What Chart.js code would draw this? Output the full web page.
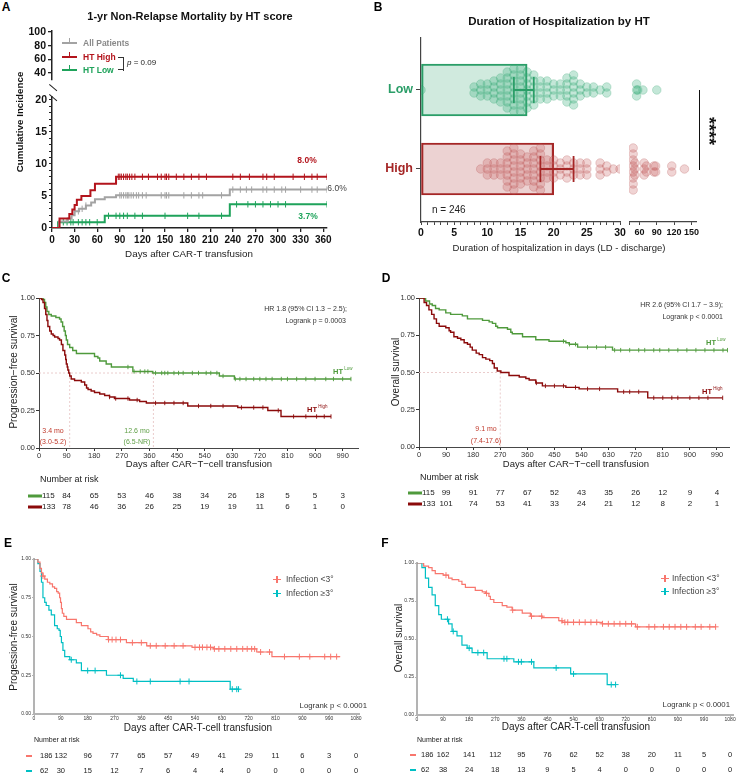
<!DOCTYPE html>
<html>
<head>
<meta charset="utf-8">
<script src="https://cdn.jsdelivr.net/npm/chart.js@4.4.1/dist/chart.umd.min.js"></script>
<style>
  body { margin:0; width:738px; height:775px; position:relative; overflow:hidden; background:#fff; }
  canvas { position:absolute; }
  .t { position:absolute; white-space:nowrap; }
  .ln { position:absolute; }
</style>
</head>
<body>
<script>
const F = '"Liberation Sans", Arial, sans-serif';
Chart.defaults.font.family = F;

// ---------- datos panel A: incidencia acumulada NRM (%), [dia, %] ----------
const nrmDays = [0, 30, 60, 90, 120, 150, 180, 210, 240, 270, 300, 330, 360];
const nrmUpperTicks = [40, 60, 80, 100];
const nrmHigh = [[0,0],[10,1.5],[23,2.2],[27,2.9],[30,3.6],[33,4.4],[39,5.0],[51,5.9],[57,6.9],[85,8.0],[365,8.0]];
const nrmAll = [[0,0],[9,1.0],[21,1.5],[26,2.0],[30,2.6],[36,3.0],[45,3.5],[52,4.0],[57,4.5],[70,4.8],[85,5.1],[236,6.0],[365,6.0]];
const nrmLow = [[0,0],[8,0.9],[70,1.9],[236,3.7],[365,3.7]];
const nrmHighCens = [88,90,92,95,98,100,103,106,110,120,128,140,145,150,152,155,165,175,185,195,205,240,250,262,280,285,295,320,335,345,352,365];
const nrmAllCens = [30,35,40,45,90,92,95,98,100,102,105,108,112,115,120,125,145,150,152,155,175,185,195,200,225,240,250,258,265,280,285,295,305,310,330,345,352,365];
const nrmLowCens = [15,20,25,28,35,40,45,50,60,75,85,90,95,100,110,120,150,180,195,225,245,260,270,280,290,300,310,365];

// ---------- datos panel B: dias de hospitalizacion ----------
const hospGroups = ['Low', 'High'];
const hospY = [1, 0];
const hospBar = [16, 20];
const hospCI = [[14, 17], [18, 23]];
const hospLow = [0, 8,8, 9,9,9, 10,10,10, 11,11,11,11, 12,12,12,12,12, 13,13,13,13,13,13,13,
  14,14,14,14,14,14,14,14, 15,15,15,15,15,15,15,15, 16,16,16,16,16,16,16, 17,17,17,17,17,17,
  18,18,18,18, 19,19,19,19, 20,20,20, 21,21,21, 22,22,22,22,22, 23,23,23,23,23,23, 24,24,24,
  25,25, 26,26, 27, 28,28, 55,55,55, 57, 66, 90];
const hospHigh = [9, 10,10,10, 11,11,11, 12,12,12, 13,13,13,13,13,13,13, 14,14,14,14,14,14,14,14,
  15,15,15,15,15,15, 16,16,16,16,16, 17,17,17,17,17,17,17, 18,18,18,18,18,18,18,18, 19,19,19,19,
  20,20,20,20, 21,21,21, 22,22,22,22, 23,23,23, 24,24,24, 25,25,25, 27,27,27, 28,28, 29, 30,
  49,49,49,49,49,49,49,49, 52,52,52, 68,68,68, 72,72, 85,85, 88,88, 116,116, 138];
const hospSeg1Ticks = [0, 5, 10, 15, 20, 25, 30];
const hospSeg2Ticks = [60, 90, 120, 150];

// ---------- datos panel C: PFS por HT ----------
const kmDaysCD = [0, 90, 180, 270, 360, 450, 540, 630, 720, 810, 900, 990];
const survTicks = [0, 0.25, 0.5, 0.75, 1];
const pfsLow = [[0,1],[13,0.99],[18,0.97],[22,0.94],[26,0.91],[32,0.89],[40,0.88],[55,0.87],[67,0.86],[72,0.84],[77,0.81],[82,0.78],[86,0.75],[89,0.72],[93,0.69],[100,0.67],[110,0.65],[122,0.63],[181,0.61],[192,0.60],[198,0.58],[219,0.56],[236,0.54],[306,0.51],[371,0.50],[588,0.48],[637,0.46],[1017,0.46]];
const pfsHigh = [[0,1],[8,0.99],[13,0.97],[18,0.93],[22,0.89],[26,0.85],[29,0.81],[35,0.78],[40,0.76],[46,0.75],[51,0.74],[62,0.73],[67,0.72],[73,0.69],[78,0.65],[84,0.62],[87,0.59],[89,0.56],[92,0.54],[94,0.52],[97,0.50],[100,0.48],[105,0.46],[116,0.45],[138,0.44],[149,0.42],[155,0.40],[160,0.39],[170,0.38],[181,0.37],[198,0.36],[214,0.35],[230,0.34],[246,0.33],[295,0.32],[328,0.31],[350,0.30],[485,0.28],[648,0.27],[746,0.25],[789,0.21],[952,0.21]];
const pfsLowCens = [290,310,330,345,355,380,400,410,420,440,455,470,500,520,545,560,580,600,640,655,675,700,720,740,760,790,810,840,870,900,935,960,990,1017];
const pfsHighCens = [230,250,290,320,380,410,440,470,520,560,600,660,700,730,780,830,870,905,930,952];
const pfsMedians = [100, 373];
const riskC_low = [115, 84, 65, 53, 46, 38, 34, 26, 18, 5, 5, 3];
const riskC_high = [133, 78, 46, 36, 26, 25, 19, 19, 11, 6, 1, 0];

// ---------- datos panel D: OS por HT ----------
const osLow = [[0,1],[22,0.98],[35,0.96],[44,0.95],[55,0.93],[67,0.92],[89,0.90],[105,0.89],[144,0.88],[161,0.86],[211,0.85],[233,0.84],[244,0.83],[255,0.81],[261,0.80],[294,0.79],[305,0.77],[310,0.76],[344,0.74],[388,0.72],[432,0.71],[488,0.70],[499,0.69],[527,0.67],[643,0.65],[1025,0.65]];
const osHigh = [[0,1],[17,0.97],[25,0.95],[33,0.92],[42,0.89],[50,0.86],[58,0.83],[67,0.81],[89,0.80],[100,0.78],[105,0.77],[116,0.74],[128,0.73],[139,0.72],[150,0.70],[161,0.69],[170,0.67],[177,0.65],[190,0.63],[200,0.62],[211,0.60],[222,0.59],[235,0.58],[244,0.56],[250,0.53],[260,0.51],[272,0.50],[299,0.48],[333,0.47],[355,0.46],[366,0.45],[388,0.43],[410,0.41],[488,0.40],[532,0.39],[660,0.37],[760,0.33],[1009,0.33]];
const osLowCens = [480,500,520,560,590,620,650,670,700,730,750,780,800,830,860,890,920,950,980,1010,1025];
const osHighCens = [390,420,450,480,520,560,600,680,700,730,780,810,840,860,900,930,960,1009];
const osMedians = [270];
const riskD_low = [115, 99, 91, 77, 67, 52, 43, 35, 26, 12, 9, 4];
const riskD_high = [133, 101, 74, 53, 41, 33, 24, 21, 12, 8, 2, 1];

// ---------- datos paneles E/F: infeccion ----------
const kmDaysEF = [0, 90, 180, 270, 360, 450, 540, 630, 720, 810, 900, 990, 1080];
const infPfsLow = [[0,1],[13,0.98],[20,0.94],[25,0.91],[30,0.89],[36,0.87],[45,0.85],[53,0.84],[62,0.82],[69,0.81],[76,0.79],[81,0.78],[86,0.75],[89,0.72],[92,0.68],[95,0.65],[100,0.63],[109,0.61],[142,0.59],[159,0.57],[181,0.55],[190,0.53],[198,0.52],[210,0.51],[221,0.50],[249,0.48],[310,0.46],[378,0.44],[530,0.43],[602,0.42],[747,0.40],[798,0.37],[1027,0.37]];
const infPfsHigh = [[0,1],[13,0.97],[20,0.92],[25,0.85],[30,0.75],[36,0.72],[41,0.70],[50,0.67],[58,0.64],[69,0.57],[78,0.55],[84,0.54],[88,0.50],[92,0.46],[97,0.41],[103,0.37],[120,0.35],[142,0.33],[159,0.28],[243,0.25],[299,0.23],[333,0.21],[658,0.16],[686,0.16]];
const infPfsLowCens = [30,250,262,275,290,330,360,390,410,440,470,500,540,555,565,580,592,605,620,640,660,680,700,715,730,740,760,790,840,890,925,975,995,1015];
const infPfsHighCens = [125,180,205,290,345,390,490,520,665,680,686];
const riskE_lo = [186, 132, 96, 77, 65, 57, 49, 41, 29, 11, 6, 3, 0];
const riskE_hi = [62, 30, 15, 12, 7, 6, 4, 4, 0, 0, 0, 0, 0];

const infOsLow = [[0,1],[23,0.98],[40,0.97],[52,0.95],[63,0.93],[90,0.92],[109,0.90],[121,0.89],[144,0.88],[155,0.86],[167,0.84],[201,0.82],[225,0.81],[236,0.80],[248,0.78],[253,0.76],[265,0.74],[294,0.72],[310,0.71],[328,0.69],[363,0.67],[391,0.65],[432,0.64],[489,0.62],[501,0.61],[639,0.60],[754,0.58],[1030,0.58]];
const infOsHigh = [[0,1],[17,0.97],[29,0.90],[40,0.84],[52,0.79],[63,0.72],[75,0.66],[84,0.63],[109,0.60],[121,0.55],[138,0.52],[155,0.46],[173,0.44],[190,0.41],[242,0.37],[334,0.35],[403,0.31],[530,0.27],[656,0.20],[685,0.20]];
const infOsLowCens = [100,240,330,395,430,500,510,520,540,560,580,600,620,640,660,680,700,720,740,760,800,820,850,870,890,910,930,960,980,1010,1030];
const infOsHighCens = [105,125,180,210,230,300,310,350,360,395,480,540,670,685];
const riskF_lo = [186, 162, 141, 112, 95, 76, 62, 52, 38, 20, 11, 5, 0];
const riskF_hi = [62, 38, 24, 18, 13, 9, 5, 4, 0, 0, 0, 0, 0];

// colores
const redA = '#b3141c', greyA = '#a3a3a3', greenA = '#1fa35b';
const greenB = '#2b9e68', redB = '#a52626';
const greenKM = '#4f9a3c', redKM = '#8b0a0a';
const salmon = '#f8766d', cyan = '#00bfc4';

// ---------- utilitarios ----------
function range(a, b) { const r = []; for (let i = a; i <= b; i++) r.push(i); return r; }

function stepAt(pts, d) {
  let v = pts[0][1];
  for (const p of pts) { if (p[0] <= d) v = p[1]; }
  return v;
}

function txt(s, x, y, fs, o) {
  o = o || {};
  const d = document.createElement('div');
  d.className = 't';
  d.innerHTML = s;
  d.style.font = (o.b ? 'bold ' : '') + fs + 'px ' + F;
  d.style.lineHeight = '1';
  d.style.color = o.c || '#222';
  d.style.left = x + 'px';
  d.style.top = y + 'px';
  const tx = o.a === 'l' ? '0' : o.a === 'r' ? '-100%' : '-50%';
  d.style.transform = 'translate(' + tx + ',-50%)' + (o.r ? ' rotate(' + o.r + 'deg)' : '');
  document.body.appendChild(d);
}

function box(x, y, w, h, color, extra) {
  const d = document.createElement('div');
  d.className = 'ln';
  d.style.cssText = 'left:' + x + 'px;top:' + y + 'px;width:' + w + 'px;height:' + h + 'px;background:' + color + ';' + (extra || '');
  document.body.appendChild(d);
}

function mkCanvas(area, m) {
  const c = document.createElement('canvas');
  const left = Math.round(area[0] - m.l), top = Math.round(area[1] - m.t);
  c.width = Math.round(area[2] - area[0] + m.l + m.r);
  c.height = Math.round(area[3] - area[1] + m.t + m.b);
  c.style.left = left + 'px';
  c.style.top = top + 'px';
  c.style.width = c.width + 'px';
  c.style.height = c.height + 'px';
  document.body.appendChild(c);
  return { c: c, left: left, top: top };
}

function axis(o) {
  const shown = o.display !== false;
  return {
    type: 'linear', min: o.min, max: o.max, display: shown, offset: false,
    afterFit: s => { if (!shown) return; if (o.horiz) s.height = o.size; else s.width = o.size; },
    afterBuildTicks: s => { s.ticks = o.ticks.map(v => ({ value: v })); },
    grid: { drawOnChartArea: false, drawTicks: true, tickLength: o.tl, color: o.color, lineWidth: o.tw || 1, offset: false },
    border: { display: true, color: o.color, width: o.bw },
    ticks: { autoSkip: false, maxRotation: 0, padding: o.pad, color: o.tc || '#222',
      font: { size: o.fs, weight: o.fw || 'normal', family: F }, callback: o.cb || (v => v) }
  };
}

function opts(m, x, y) {
  return {
    responsive: false, animation: false, events: [],
    layout: { padding: { left: y.display === false ? m.l : 0, top: m.t, right: m.r, bottom: x.display === false ? m.b : 0 } },
    plugins: { legend: { display: false }, tooltip: { enabled: false } },
    scales: { x: x, y: y }
  };
}

function stepSets(pts, cens, color, lw, mark, r, mw) {
  return [
    { type: 'line', data: pts.map(q => ({ x: q[0], y: q[1] })), stepped: true, borderColor: color,
      borderWidth: lw, pointRadius: 0, fill: false, tension: 0 },
    { type: 'scatter', data: cens.map(d => ({ x: d, y: stepAt(pts, d) })), pointStyle: mark, pointRadius: r,
      rotation: mark === 'line' ? 90 : 0, borderColor: color, backgroundColor: color, borderWidth: mw }
  ];
}

// ---------- Panel A ----------
(function () {
  const m = { l: 52, t: 10, r: 10, b: 10 };
  const cv = mkCanvas([52, 31, 327, 80], m);
  new Chart(cv.c, {
    type: 'scatter', data: { datasets: [{ data: [] }] },
    options: opts(m,
      axis({ horiz: true, display: false, min: 0, max: 365, size: 0, ticks: [], tl: 0, color: '#222', bw: 1.5, pad: 0, fs: 10 }),
      axis({ min: 29.76, max: 101.46, size: 52, ticks: nrmUpperTicks, tl: 4, color: '#222', bw: 1.5, tw: 1.3, pad: 2, fs: 10.5, fw: 'bold', tc: '#111' }))
  });
})();

(function () {
  const m = { l: 52, t: 10, r: 10, b: 22 };
  const cv = mkCanvas([52, 97, 327, 228], m);
  const ds = [].concat(
    stepSets(nrmHigh, nrmHighCens, redA, 2, 'line', 3.2, 1),
    stepSets(nrmAll, nrmAllCens, greyA, 2, 'line', 3.2, 1),
    stepSets(nrmLow, nrmLowCens, greenA, 2, 'line', 3.2, 1));
  new Chart(cv.c, {
    type: 'scatter', data: { datasets: ds },
    options: opts(m,
      axis({ horiz: true, min: 0, max: 365, size: 22, ticks: nrmDays, tl: 4, color: '#222', bw: 1.5, tw: 1.3, pad: 2, fs: 10, fw: 'bold', tc: '#111' }),
      axis({ min: 0, max: 20.47, size: 52, ticks: range(0, 20), tl: 3, color: '#222', bw: 1.5, tw: 1.1, pad: 2, fs: 10.5, fw: 'bold', tc: '#111',
        cb: v => (v % 5 === 0 ? v : '') }))
  });
})();

txt('A', 6, 7, 12, { b: 1, c: '#000' });
txt('1-yr Non-Relapse Mortality by HT score', 190, 16, 11, { b: 1, c: '#111' });
txt('Cumulative Incidence', 20, 122, 9.8, { b: 1, c: '#111', r: -90 });
txt('Days after CAR-T transfusion', 189, 254, 9.8, { c: '#222' });
// leyenda A
[[43, greyA, 'All Patients', '#8a8a8a'], [57, redA, 'HT High', redA], [70, greenA, 'HT Low', greenA]].forEach(l => {
  box(62, l[0] - 1, 15, 2, l[1]);
  box(69, l[0] - 5, 1.3, 5, l[1]);
  txt(l[2], 83, l[0], 8.5, { b: 1, c: l[3], a: 'l' });
});
box(123, 57, 1.2, 13.5, '#333');
box(118, 57, 5, 1.2, '#333');
box(118, 69.3, 5, 1.2, '#333');
txt('<i>p</i> = 0.09', 127, 63, 8, { a: 'l', c: '#222' });
box(48, 87, 10, 1.4, '#222', 'transform:rotate(40deg)');
box(48, 97, 10, 1.4, '#222', 'transform:rotate(40deg)');
txt('8.0%', 307, 160, 8.5, { b: 1, c: redA });
txt('6.0%', 337, 188, 8.5, { c: '#444' });
txt('3.7%', 308, 216, 8.5, { b: 1, c: greenA });

// ---------- Panel B ----------
function swarm(vals, yc, step) {
  const cnt = {};
  vals.forEach(v => { cnt[v] = (cnt[v] || 0) + 1; });
  const out = [];
  Object.keys(cnt).forEach(k => {
    const n = cnt[k];
    for (let i = 0; i < n; i++) out.push({ x: +k, y: yc + (i - (n - 1) / 2) * step });
  });
  return out;
}
const dotStep = 6 / 79;
const dotLow = { pointRadius: 4.3, backgroundColor: 'rgba(60,175,125,0.3)', borderColor: 'rgba(40,160,105,0.3)', borderWidth: 0.8 };
const dotHigh = { pointRadius: 4.3, backgroundColor: 'rgba(200,100,100,0.28)', borderColor: 'rgba(175,70,70,0.3)', borderWidth: 0.8 };
const yB = (disp) => axis({ display: disp, min: -0.671, max: 1.658, size: 50, ticks: hospY, tl: 5, color: '#444', bw: 1.2, pad: 3,
  fs: 12.5, fw: 'bold', tc: c => (c.tick && c.tick.value === 1 ? greenB : redB), cb: v => (v === 1 ? hospGroups[0] : hospGroups[1]) });

(function () {
  const m = { l: 50, t: 12, r: 8, b: 22 };
  const cv = mkCanvas([421, 38, 620, 222], m);
  const ds = [
    Object.assign({ type: 'scatter', data: swarm(hospLow.filter(v => v <= 30), hospY[0], dotStep), order: 1 }, dotLow),
    Object.assign({ type: 'scatter', data: swarm(hospHigh.filter(v => v <= 30), hospY[1], dotStep), order: 1 }, dotHigh),
    { type: 'bar', indexAxis: 'y', data: hospBar.map((v, i) => ({ x: v, y: hospY[i] })), barThickness: 52,
      backgroundColor: ['rgba(40,160,105,0.22)', 'rgba(175,60,60,0.23)'], borderColor: [greenB, redB],
      borderWidth: 1.5, borderSkipped: false, order: 2 }
  ];
  const errPlugin = {
    id: 'err',
    afterDatasetsDraw(ch) {
      const x = ch.scales.x, y = ch.scales.y, ctx = ch.ctx;
      hospCI.forEach((ci, i) => {
        const yc = y.getPixelForValue(hospY[i]);
        const x0 = x.getPixelForValue(ci[0]), x1 = x.getPixelForValue(ci[1]);
        ctx.save();
        ctx.strokeStyle = i === 0 ? greenB : redB;
        ctx.lineWidth = 1.8;
        ctx.beginPath();
        ctx.moveTo(x0, yc); ctx.lineTo(x1, yc);
        ctx.moveTo(x0, yc - 13); ctx.lineTo(x0, yc + 13);
        ctx.moveTo(x1, yc - 13); ctx.lineTo(x1, yc + 13);
        ctx.stroke();
        ctx.restore();
      });
    }
  };
  new Chart(cv.c, {
    type: 'scatter', data: { datasets: ds },
    options: opts(m,
      axis({ horiz: true, min: 0, max: 30, size: 22, ticks: range(0, 30), tl: 3, color: '#444', bw: 1.2, pad: 2, fs: 10.5, fw: 'bold', tc: '#111',
        cb: v => (hospSeg1Ticks.indexOf(v) >= 0 ? v : '') }),
      yB(true)),
    plugins: [errPlugin]
  });
})();

(function () {
  const m = { l: 4, t: 12, r: 10, b: 22 };
  const cv = mkCanvas([628, 38, 696, 222], m);
  const ds = [
    Object.assign({ type: 'scatter', data: swarm(hospLow.filter(v => v > 30), hospY[0], dotStep) }, dotLow),
    Object.assign({ type: 'scatter', data: swarm(hospHigh.filter(v => v > 30), hospY[1], dotStep) }, dotHigh)
  ];
  new Chart(cv.c, {
    type: 'scatter', data: { datasets: ds },
    options: opts(m,
      axis({ horiz: true, min: 42, max: 158, size: 22, ticks: [42].concat(hospSeg2Ticks), tl: 3, color: '#444', bw: 1.2, pad: 2, fs: 9, fw: 'bold', tc: '#111',
        cb: v => (v === 42 ? '' : v) }),
      yB(false))
  });
})();

txt('B', 378, 7, 12, { b: 1, c: '#000' });
txt('Duration of Hospitalization by HT', 559, 22, 11.5, { b: 1, c: '#111' });
txt('Duration of hospitalization in days (LD - discharge)', 559, 248, 9.5, { c: '#222' });
txt('n = 246', 432, 210, 10, { a: 'l', c: '#222' });
box(698.5, 90, 1.5, 80, '#111');
txt('****', 709, 131, 18, { b: 1, c: '#111', r: 90 });

// ---------- Kaplan-Meier (C-F) ----------
function km(p) {
  const cv = mkCanvas(p.area, p.m);
  let ds = [];
  p.curves.forEach(s => { ds = ds.concat(stepSets(s.pts, s.cens, s.color, p.lw, p.mark, p.markR, p.markW)); });
  const plug = {
    id: 'kmExtras',
    beforeDatasetsDraw(ch) {
      if (!p.medians) return;
      const x = ch.scales.x, y = ch.scales.y, ctx = ch.ctx;
      const y5 = y.getPixelForValue(0.5), y0 = y.getPixelForValue(0);
      ctx.save();
      ctx.setLineDash([2, 2]);
      ctx.strokeStyle = '#e8c6c6';
      ctx.lineWidth = 0.9;
      ctx.beginPath();
      ctx.moveTo(x.getPixelForValue(0), y5);
      ctx.lineTo(x.getPixelForValue(Math.max.apply(null, p.medians)), y5);
      p.medians.forEach(d => { const px = x.getPixelForValue(d); ctx.moveTo(px, y5); ctx.lineTo(px, y0); });
      ctx.stroke();
      ctx.restore();
    },
    afterDraw(ch) {
      const x = ch.scales.x, ctx = ch.ctx, rk = p.risk;
      ctx.save();
      ctx.font = rk.fs + 'px ' + F;
      ctx.textBaseline = 'middle';
      rk.rows.forEach(r => {
        const yy = r.y - cv.top;
        ctx.fillStyle = r.color;
        ctx.fillRect(rk.sw[0] - cv.left, yy - rk.swH / 2, rk.sw[1] - rk.sw[0], rk.swH);
        ctx.fillStyle = '#222';
        rk.days.forEach((d, i) => {
          let px = x.getPixelForValue(d);
          if (i === 0) { ctx.textAlign = 'left'; px += rk.shift; } else ctx.textAlign = 'center';
          ctx.fillText(String(r.vals[i]), px, yy);
        });
      });
      ctx.restore();
    }
  };
  new Chart(cv.c, {
    type: 'scatter', data: { datasets: ds },
    options: opts(p.m,
      axis({ horiz: true, min: 0, max: p.xmax, size: p.m.b, ticks: p.xticks, tl: p.tl, color: p.ac, bw: p.bw, pad: 0, fs: p.fs, tc: '#333' }),
      axis({ min: 0, max: 1, size: p.m.l, ticks: survTicks, tl: p.tl, color: p.ac, bw: p.bw, pad: 1, fs: p.fs, tc: '#333', cb: v => v.toFixed(2) })),
    plugins: [plug]
  });
}

km({ area: [39, 298, 358, 448], m: { l: 39, t: 10, r: 10, b: 67 }, xmax: 1040, xticks: kmDaysCD,
  lw: 1.4, mark: 'line', markR: 2.2, markW: 0.9, ac: '#333', bw: 0.9, fs: 7.5, tl: 3,
  curves: [{ pts: pfsHigh, cens: pfsHighCens, color: redKM }, { pts: pfsLow, cens: pfsLowCens, color: greenKM }],
  medians: pfsMedians,
  risk: { days: kmDaysCD, fs: 8, sw: [28, 42], swH: 3, shift: 3,
    rows: [{ vals: riskC_low, color: greenKM, y: 496 }, { vals: riskC_high, color: redKM, y: 507 }] } });

km({ area: [419, 298, 729, 447], m: { l: 50, t: 10, r: 8, b: 66 }, xmax: 1030, xticks: kmDaysCD,
  lw: 1.4, mark: 'line', markR: 2.2, markW: 0.9, ac: '#333', bw: 0.9, fs: 7.5, tl: 3,
  curves: [{ pts: osHigh, cens: osHighCens, color: redKM }, { pts: osLow, cens: osLowCens, color: greenKM }],
  medians: osMedians,
  risk: { days: kmDaysCD, fs: 8, sw: [408, 422], swH: 3, shift: 3,
    rows: [{ vals: riskD_low, color: greenKM, y: 493 }, { vals: riskD_high, color: redKM, y: 504 }] } });

km({ area: [34, 559, 359, 714], m: { l: 34, t: 8, r: 9, b: 61 }, xmax: 1090, xticks: kmDaysEF,
  lw: 1.2, mark: 'cross', markR: 3, markW: 1, ac: '#b3b3b3', bw: 2, fs: 5, tl: 2,
  curves: [{ pts: infPfsLow, cens: infPfsLowCens, color: salmon }, { pts: infPfsHigh, cens: infPfsHighCens, color: cyan }],
  risk: { days: kmDaysEF, fs: 7.5, sw: [26, 32], swH: 2, shift: 6,
    rows: [{ vals: riskE_lo, color: salmon, y: 756 }, { vals: riskE_hi, color: cyan, y: 771 }] } });

km({ area: [417, 563, 733, 715], m: { l: 48, t: 8, r: 5, b: 60 }, xmax: 1090, xticks: kmDaysEF,
  lw: 1.2, mark: 'cross', markR: 3, markW: 1, ac: '#b3b3b3', bw: 2, fs: 5, tl: 2,
  curves: [{ pts: infOsLow, cens: infOsLowCens, color: salmon }, { pts: infOsHigh, cens: infOsHighCens, color: cyan }],
  risk: { days: kmDaysEF, fs: 7.5, sw: [410, 416], swH: 2, shift: 4,
    rows: [{ vals: riskF_lo, color: salmon, y: 755 }, { vals: riskF_hi, color: cyan, y: 770 }] } });

// textos C
const sup = (s) => '<span style="font-size:4.5px;font-weight:normal;vertical-align:4px"> ' + s + '</span>';
txt('C', 6, 278, 12, { b: 1, c: '#000' });
txt('Progression\u2212free survival', 14, 372, 10, { r: -90 });
txt('Days after CAR\u2212T\u2212cell transfusion', 199, 464, 9.5);
txt('HR 1.8 (95% CI 1.3 \u2212 2.5);', 347, 308, 7, { a: 'r', c: '#333' });
txt('Logrank p = 0.0003', 346, 320, 7, { a: 'r', c: '#333' });
txt('<b>HT</b>' + sup('Low'), 333, 371, 7.5, { a: 'l', c: greenKM });
txt('<b>HT</b>' + sup('High'), 307, 409, 7.5, { a: 'l', c: redKM });
txt('3.4 mo', 53, 430, 7, { c: '#c0392b' });
txt('(3.0-5.2)', 53, 441, 7, { c: '#c0392b' });
txt('12.6 mo', 137, 430, 7, { c: '#5e9e45' });
txt('(6.5-NR)', 137, 441, 7, { c: '#5e9e45' });
txt('Number at risk', 40, 479, 9, { a: 'l' });

// textos D
txt('D', 386, 278, 12, { b: 1, c: '#000' });
txt('Overall survival', 396, 372, 10, { r: -90 });
txt('Days after CAR\u2212T\u2212cell transfusion', 576, 464, 9.5);
txt('HR 2.6 (95% CI 1.7 \u2212 3.9);', 723, 304, 7, { a: 'r', c: '#333' });
txt('Logrank p &lt; 0.0001', 723, 316, 7, { a: 'r', c: '#333' });
txt('<b>HT</b>' + sup('Low'), 706, 342, 7.5, { a: 'l', c: greenKM });
txt('<b>HT</b>' + sup('High'), 702, 391, 7.5, { a: 'l', c: redKM });
txt('9.1 mo', 486, 428, 7, { c: '#c0392b' });
txt('(7.4-17.6)', 486, 440, 7, { c: '#c0392b' });
txt('Number at risk', 420, 477, 9, { a: 'l' });

// textos E / F
function infLegend(mx, tx, ys) {
  [[ys[0], salmon, 'Infection &lt;3\u00b0'], [ys[1], cyan, 'Infection \u22653\u00b0']].forEach(l => {
    box(mx, l[0] - 0.5, 8, 1.2, l[1]);
    box(mx + 3.4, l[0] - 3.5, 1.2, 7, l[1]);
    txt(l[2], tx, l[0], 8.5, { a: 'l', c: '#444' });
  });
}
txt('E', 8, 543, 12, { b: 1, c: '#000' });
txt('Progession-free survival', 14, 637, 10, { r: -90 });
txt('Days after CAR-T-cell transfusion', 198, 728, 10);
infLegend(273, 286, [579, 593]);
txt('Logrank p &lt; 0.0001', 367, 706, 7.8, { a: 'r', c: '#333' });
txt('Number at risk', 34, 739, 7, { a: 'l' });

txt('F', 385, 543, 12, { b: 1, c: '#000' });
txt('Overall survival', 399, 638, 10, { r: -90 });
txt('Days after CAR-T-cell transfusion', 576, 727, 10);
infLegend(661, 672, [578, 591]);
txt('Logrank p &lt; 0.0001', 730, 705, 7.8, { a: 'r', c: '#333' });
txt('Number at risk', 417, 739, 7, { a: 'l' });
</script>
</body>
</html>
